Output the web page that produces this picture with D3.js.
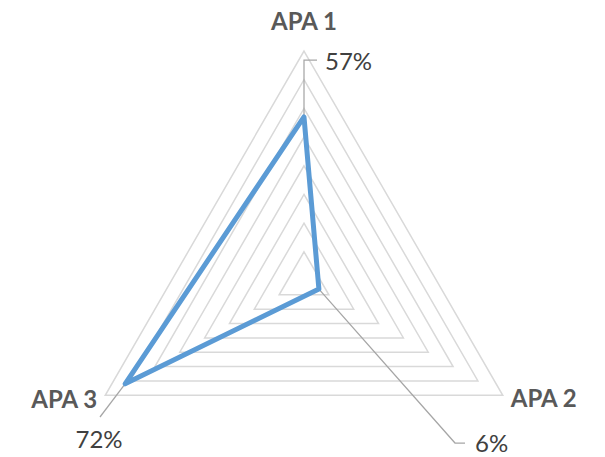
<!DOCTYPE html>
<html>
<head>
<meta charset="utf-8">
<script src="https://cdn.jsdelivr.net/npm/d3@7"></script>
<style>
  html, body { margin: 0; padding: 0; background: #ffffff; }
  svg { display: block; }
</style>
</head>
<body>
<svg id="chart" width="605" height="457"></svg>
<script>
// Radar chart data
const categories = ["APA 1", "APA 2", "APA 3"];
const values = [0.57, 0.06, 0.72];
const valueLabels = ["57%", "6%", "72%"];
const gridLevels = [0.1, 0.2, 0.3, 0.4, 0.5, 0.6, 0.7, 0.8];

const width = 605, height = 457;
const cx = 304, cy = 280.5;
const maxR = 229.5;

const svg = d3.select("#chart");
const g = svg.append("g").attr("transform", `translate(${cx},${cy})`);

const r = d3.scaleLinear().domain([0, 0.8]).range([0, maxR]);
const angle = d3.scalePoint().domain(categories).range([0, 2 * Math.PI * (categories.length - 1) / categories.length]);

function pt(cat, v) {
  const a = angle(cat) - Math.PI / 2;
  return [Math.cos(a) * r(v), Math.sin(a) * r(v)];
}

const radial = d3.lineRadial()
  .angle(d => d.a)
  .radius(d => r(d.v))
  .curve(d3.curveLinearClosed);

// Triangular grid rings
g.selectAll("path.ring")
  .data(gridLevels)
  .join("path")
  .attr("class", "ring")
  .attr("d", lv => radial(categories.map(c => ({ a: angle(c), v: lv }))))
  .attr("fill", "none")
  .attr("stroke", "#d9d9d9")
  .attr("stroke-width", 1.5);

// Data leader lines (drawn under the series)
const leaderColor = "#a6a6a6";
const p1 = pt(categories[0], values[0]);
const p2 = pt(categories[1], values[1]);
const p3 = pt(categories[2], values[2]);

const leaders = [
  [p1, [p1[0], -220.5], [p1[0] + 13, -220.5]],
  [p2, [151, 162.5], [161, 162.5]],
  [p3, [-204, 136.5]]
];
g.selectAll("path.leader")
  .data(leaders)
  .join("path")
  .attr("class", "leader")
  .attr("d", d => d3.line()(d))
  .attr("fill", "none")
  .attr("stroke", leaderColor)
  .attr("stroke-width", 1.25);

// Series polygon
g.append("path")
  .attr("d", radial(categories.map((c, i) => ({ a: angle(c), v: values[i] }))))
  .attr("fill", "none")
  .attr("stroke", "#5b9bd5")
  .attr("stroke-width", 5)
  .attr("stroke-linejoin", "round");

// Category labels
const catFont = "Lato, 'Open Sans', sans-serif";
const vtx = categories.map(c => pt(c, 0.8));
const catPos = [
  { x: vtx[0][0], y: vtx[0][1] - 21.5, anchor: "middle" },
  { x: vtx[1][0] + 8, y: vtx[1][1] + 12, anchor: "start" },
  { x: vtx[2][0] - 8, y: vtx[2][1] + 13, anchor: "end" }
];
g.selectAll("text.cat")
  .data(categories)
  .join("text")
  .attr("class", "cat")
  .attr("x", (d, i) => catPos[i].x)
  .attr("y", (d, i) => catPos[i].y)
  .attr("text-anchor", (d, i) => catPos[i].anchor)
  .attr("font-family", catFont)
  .attr("font-weight", "bold")
  .attr("font-size", 24)
  .attr("fill", "#595959")
  .text(d => d);

// Value labels
const valPos = [
  { x: p1[0] + 21, y: -210.5, anchor: "start" },
  { x: 171, y: 171.5, anchor: "start" },
  { x: -205, y: 167.5, anchor: "middle" }
];
g.selectAll("text.val")
  .data(valueLabels)
  .join("text")
  .attr("class", "val")
  .attr("x", (d, i) => valPos[i].x)
  .attr("y", (d, i) => valPos[i].y)
  .attr("text-anchor", (d, i) => valPos[i].anchor)
  .attr("font-family", catFont)
  .attr("font-size", 24)
  .attr("fill", "#404040")
  .text(d => d);
</script>
</body>
</html>
